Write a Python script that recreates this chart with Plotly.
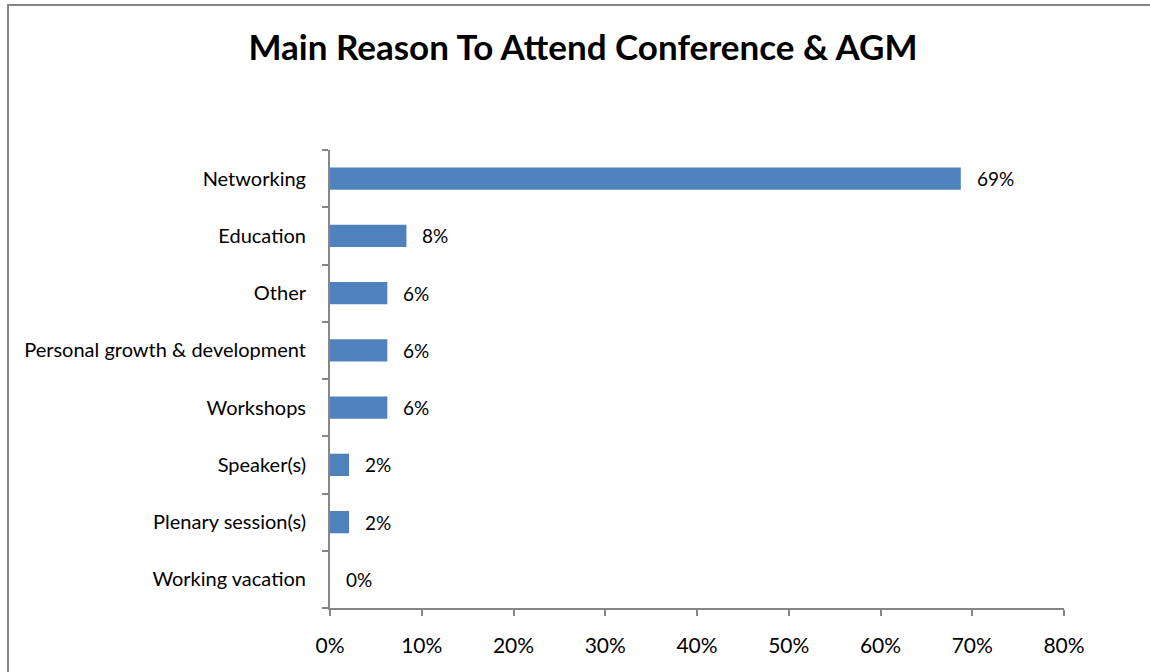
import plotly.graph_objects as go

# Survey responses: main reason to attend the Conference & AGM (share of respondents)
categories = [
    "Networking",
    "Education",
    "Other",
    "Personal growth & development",
    "Workshops",
    "Speaker(s)",
    "Plenary session(s)",
    "Working vacation",
]
shares = [0.6875, 0.0833, 0.0625, 0.0625, 0.0625, 0.0208, 0.0208, 0.0]
x_ticks = [0, 0.1, 0.2, 0.3, 0.4, 0.5, 0.6, 0.7, 0.8]
x_tick_labels = ["0%", "10%", "20%", "30%", "40%", "50%", "60%", "70%", "80%"]

FONT = "Lato, Carlito, Calibri, sans-serif"
AXIS_GREY = "#868686"
BAR_BLUE = "#4f81bd"

# plot-area geometry in pixels
W, H = 1150, 672
L, R, T, B = 330, 1064, 150, 608

fig = go.Figure(
    go.Bar(
        x=shares,
        y=categories,
        orientation="h",
        marker=dict(color=BAR_BLUE, line=dict(width=0)),
        hoverinfo="x+y",
    )
)

# value labels to the right of each bar
for cat, val in zip(categories, shares):
    fig.add_annotation(
        x=val, y=cat, xref="x", yref="y",
        text=f"{val:.0%}", showarrow=False,
        xanchor="left", yanchor="middle", xshift=14,
        font=dict(family=FONT, size=19, color="#000000"),
    )

# chart-area frame (left and top edges)
def px_to_paper_x(px):
    return (px - L) / (R - L)

def px_to_paper_y(py):
    return (B - py) / (B - T)

fig.add_shape(
    type="rect", xref="paper", yref="paper",
    x0=px_to_paper_x(8), x1=px_to_paper_x(1160),
    y0=px_to_paper_y(690), y1=px_to_paper_y(5),
    line=dict(color=AXIS_GREY, width=2), fillcolor="rgba(0,0,0,0)", layer="below",
)

fig.update_layout(
    width=W, height=H,
    margin=dict(l=L, r=W - R, t=T, b=H - B, pad=0),
    paper_bgcolor="white",
    plot_bgcolor="white",
    showlegend=False,
    bargap=0.61,
    title=dict(
        text="<b>Main Reason To Attend Conference &amp; AGM</b>",
        x=px_to_paper_x(583), xref="paper", xanchor="center",
        y=1 - 48 / H, yref="container", yanchor="middle",
        font=dict(family=FONT, size=35, color="#000000"),
    ),
    xaxis=dict(
        range=[0, 0.8],
        tickvals=x_ticks,
        ticktext=x_tick_labels,
        showgrid=False,
        zeroline=False,
        showline=True, linecolor=AXIS_GREY, linewidth=2,
        ticks="outside", ticklen=6, tickwidth=2, tickcolor=AXIS_GREY,
        ticklabelstandoff=12,
        tickfont=dict(family=FONT, size=21, color="#000000"),
        fixedrange=True,
    ),
    yaxis=dict(
        categoryorder="array",
        categoryarray=categories[::-1],
        autorange=False,
        range=[-0.5, len(categories) - 0.5],
        showgrid=False,
        zeroline=False,
        showline=True, linecolor=AXIS_GREY, linewidth=2,
        ticks="outside", ticklen=6, tickwidth=2, tickcolor=AXIS_GREY,
        tickson="boundaries",
        ticklabelstandoff=18,
        tickfont=dict(family=FONT, size=20, color="#000000"),
        fixedrange=True,
    ),
)

fig.write_html("out.html")
